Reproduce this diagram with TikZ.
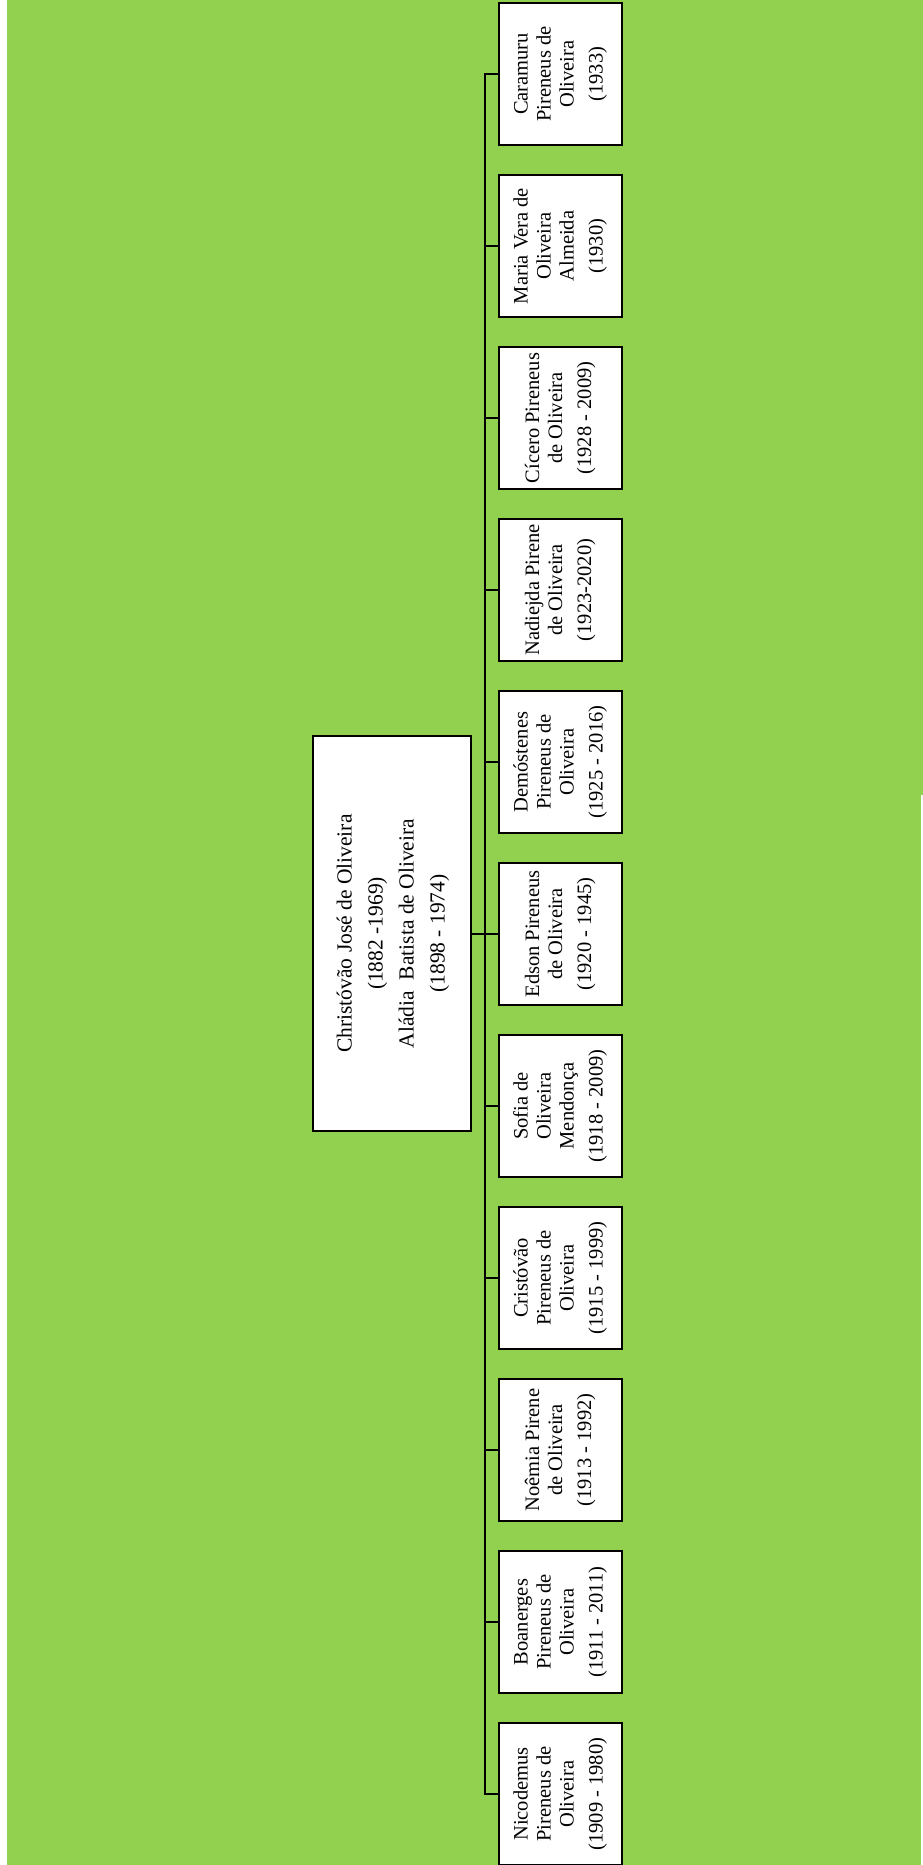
\documentclass[tikz,border=0pt]{standalone}
\usepackage{fontspec}
\setmainfont{Liberation Serif}
\definecolor{bggreen}{RGB}{146,208,80}
\newcommand{\kidtext}[1]{\rotatebox{90}{\fontsize{20.5}{23}\selectfont\begin{tabular}{@{}c@{}}#1\end{tabular}}}
\tikzset{
  kidbox/.style={draw=black, fill=white, line width=2pt, minimum width=123pt, minimum height=142pt, inner sep=0pt},
  parentbox/.style={draw=black, fill=white, line width=2pt, minimum width=158pt, minimum height=395pt, inner sep=0pt},
  link/.style={draw=black, line width=2pt}
}
\begin{document}
\begin{tikzpicture}[x=1pt,y=-1pt]
\useasboundingbox (0,0) rectangle (923,1865);
\fill[white] (0,0) rectangle (923,1865);
\fill[bggreen] (7,0) rectangle (923,795);
\fill[bggreen] (7,795) rectangle (921,1865);

\node[parentbox] (p) at (392,933.5) {\rotatebox{90}{\fontsize{21.5}{31}\selectfont\begin{tabular}{@{}c@{}}Christóvão José de Oliveira\\(1882 -1969)\\Aládia\ \ Batista de Oliveira\\(1898 - 1974)\end{tabular}}};

\node[kidbox] (c1) at (560.5,74) {\kidtext{Caramuru\\Pireneus de\\Oliveira\\[6pt](1933)}};
\node[kidbox] (c2) at (560.5,246) {\kidtext{Maria Vera de\\Oliveira\\Almeida\\[6pt](1930)}};
\node[kidbox] (c3) at (560.5,418) {\kidtext{Cícero Pireneus\\de Oliveira\\[6pt](1928 - 2009)}};
\node[kidbox] (c4) at (560.5,590) {\kidtext{Nadiejda Pirene\\de Oliveira\\[6pt](1923-2020)}};
\node[kidbox] (c5) at (560.5,762) {\kidtext{Demóstenes\\Pireneus de\\Oliveira\\[6pt](1925 - 2016)}};
\node[kidbox] (c6) at (560.5,934) {\kidtext{Edson Pireneus\\de Oliveira\\[6pt](1920 - 1945)}};
\node[kidbox] (c7) at (560.5,1106) {\kidtext{Sofia de\\Oliveira\\Mendonça\\[6pt](1918 - 2009)}};
\node[kidbox] (c8) at (560.5,1278) {\kidtext{Cristóvão\\Pireneus de\\Oliveira\\[6pt](1915 - 1999)}};
\node[kidbox] (c9) at (560.5,1450) {\kidtext{Noêmia Pirene\\de Oliveira\\[6pt](1913 - 1992)}};
\node[kidbox] (c10) at (560.5,1622) {\kidtext{Boanerges\\Pireneus de\\Oliveira\\[6pt](1911 - 2011)}};
\node[kidbox] (c11) at (560.5,1794) {\kidtext{Nicodemus\\Pireneus de\\Oliveira\\[6pt](1909 - 1980)}};

\coordinate (tTop) at (485,74);
\coordinate (tBot) at (485,1794);
\draw[link, line cap=rect] (tTop) -- (tBot);
\draw[link] (p.east) -- (p.east -| tTop);
\foreach \k in {1,...,11} {
  \draw[link] (c\k.west) -- (c\k.west -| tTop);
}
\end{tikzpicture}
\end{document}
